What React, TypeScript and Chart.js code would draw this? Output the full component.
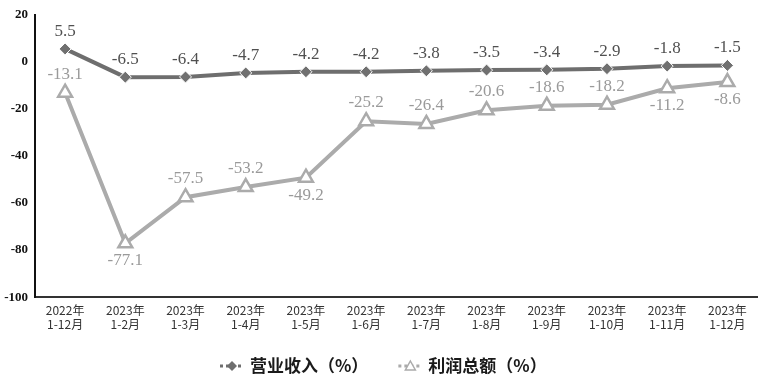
import React, { useEffect, useRef } from "react";
import { Chart, registerables } from "chart.js";

Chart.register(...registerables);

const categories: string[][] = [
  ["2022年", "1-12月"],
  ["2023年", "1-2月"],
  ["2023年", "1-3月"],
  ["2023年", "1-4月"],
  ["2023年", "1-5月"],
  ["2023年", "1-6月"],
  ["2023年", "1-7月"],
  ["2023年", "1-8月"],
  ["2023年", "1-9月"],
  ["2023年", "1-10月"],
  ["2023年", "1-11月"],
  ["2023年", "1-12月"],
];
const revenue: number[] = [5.5, -6.5, -6.4, -4.7, -4.2, -4.2, -3.8, -3.5, -3.4, -2.9, -1.8, -1.5];
const profit: number[] = [-13.1, -77.1, -57.5, -53.2, -49.2, -25.2, -26.4, -20.6, -18.6, -18.2, -11.2, -8.6];
// label placement for profit series: true = above the point
const profitAbove: boolean[] = [true, false, true, true, false, true, true, true, true, true, false, false];
const seriesNames: string[] = ["营业收入（%）", "利润总额（%）"];

const REV_COLOR = "#6e6e6e";
const PROFIT_COLOR = "#ababab";

const labelPlugin = {
  id: "valueLabels",
  afterDatasetsDraw(chart: any) {
    const ctx = chart.ctx;
    ctx.save();
    ctx.font = "17px 'Liberation Serif', 'Times New Roman', serif";
    ctx.textAlign = "center";
    const m0 = chart.getDatasetMeta(0);
    m0.data.forEach((pt: any, i: number) => {
      ctx.fillStyle = "#505050";
      ctx.textBaseline = "bottom";
      ctx.fillText(revenue[i].toFixed(1), pt.x, pt.y - 9);
    });
    const m1 = chart.getDatasetMeta(1);
    m1.data.forEach((pt: any, i: number) => {
      ctx.fillStyle = "#9a9a9a";
      if (profitAbove[i]) {
        ctx.textBaseline = "bottom";
        ctx.fillText(profit[i].toFixed(1), pt.x, pt.y - 10);
      } else {
        ctx.textBaseline = "top";
        ctx.fillText(profit[i].toFixed(1), pt.x, pt.y + 9);
      }
    });
    ctx.restore();
  },
  afterDraw(chart: any) {
    const ctx = chart.ctx;
    ctx.save();
    const y = 366;
    ctx.font = "bold 17px 'Noto Sans CJK SC', sans-serif";
    ctx.textBaseline = "middle";
    ctx.textAlign = "left";
    const items = [
      { name: seriesNames[0], color: REV_COLOR, style: "rectRot" },
      { name: seriesNames[1], color: PROFIT_COLOR, style: "triangle" },
    ];
    let x = 220;
    items.forEach((it) => {
      ctx.strokeStyle = it.color;
      ctx.lineWidth = 3;
      ctx.setLineDash([3, 3]);
      ctx.beginPath();
      ctx.moveTo(x, y);
      ctx.lineTo(x + 24, y);
      ctx.stroke();
      ctx.setLineDash([]);
      ctx.lineWidth = 1.5;
      ctx.beginPath();
      if (it.style === "rectRot") {
        ctx.moveTo(x + 12, y - 5);
        ctx.lineTo(x + 17, y);
        ctx.lineTo(x + 12, y + 5);
        ctx.lineTo(x + 7, y);
        ctx.closePath();
        ctx.fillStyle = it.color;
        ctx.fill();
      } else {
        ctx.moveTo(x + 12, y - 5);
        ctx.lineTo(x + 17, y + 4);
        ctx.lineTo(x + 7, y + 4);
        ctx.closePath();
        ctx.fillStyle = "#ffffff";
        ctx.fill();
        ctx.strokeStyle = it.color;
        ctx.stroke();
      }
      ctx.fillStyle = "#1a1a1a";
      ctx.fillText(it.name, x + 30, y);
      x += 30 + ctx.measureText(it.name).width + 30;
    });
    ctx.restore();
  },
};

export default function App() {
  const ref = useRef<HTMLCanvasElement>(null);
  useEffect(() => {
    document.body.style.margin = "0";
    const chart = new Chart(ref.current as HTMLCanvasElement, {
      type: "line",
      data: {
        labels: categories as any,
        datasets: [
          {
            label: seriesNames[0],
            data: revenue,
            borderColor: REV_COLOR,
            backgroundColor: REV_COLOR,
            borderWidth: 4,
            pointStyle: "rectRot",
            pointRadius: 6,
            pointBackgroundColor: "#707070",
            pointBorderColor: "#ffffff",
            pointBorderWidth: 1,
            tension: 0,
          },
          {
            label: seriesNames[1],
            data: profit,
            borderColor: PROFIT_COLOR,
            backgroundColor: "#ffffff",
            borderWidth: 4,
            pointStyle: "triangle",
            pointRadius: 8,
            pointBackgroundColor: "#ffffff",
            pointBorderColor: PROFIT_COLOR,
            pointBorderWidth: 2.5,
            tension: 0,
          },
        ],
      },
      options: {
        animation: false,
        responsive: false,
        layout: { padding: { top: 12, right: 2, bottom: 44, left: 0 } },
        plugins: {
          legend: { display: false },
          tooltip: { enabled: false },
        },
        scales: {
          x: {
            offset: true,
            grid: { display: false, drawTicks: false },
            border: { display: true, color: "#333333", width: 2 },
            ticks: {
              color: "#333333",
              font: { size: 12, family: "'Noto Sans CJK SC', sans-serif" },
              maxRotation: 0,
              autoSkip: false,
              padding: 6,
            },
          },
          y: {
            min: -100,
            max: 20,
            grid: { display: false, drawTicks: false },
            border: { display: true, color: "#111111", width: 2 },
            afterFit: (s: any) => {
              s.width = 35;
            },
            ticks: {
              stepSize: 20,
              color: "#111111",
              padding: 7,
              font: { size: 13, weight: "bold", family: "'Liberation Serif', 'Times New Roman', serif" },
            },
          },
        },
      },
      plugins: [labelPlugin],
    });
    return () => chart.destroy();
  }, []);
  return (
    <div style={{ width: 768, height: 382, background: "#ffffff" }}>
      <canvas ref={ref} width={768} height={382} />
    </div>
  );
}
